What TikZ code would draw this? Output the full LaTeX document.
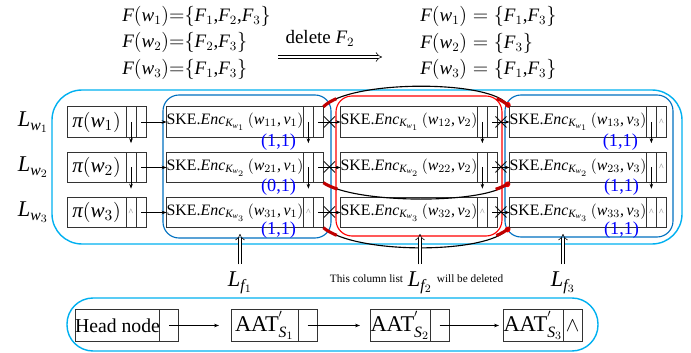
\documentclass[tikz,border=0pt]{standalone}
\usepackage{fontspec}
\setmainfont{Liberation Serif}
% math letters in the text italic
\DeclareSymbolFont{letters}{TU}{\rmdefault}{m}{it}
\DeclareMathSymbol{,}{\mathpunct}{operators}{`,}
\Umathchardef\pi="0 \symletters "03C0
\usepackage{tikz}
\usetikzlibrary{arrows.meta,positioning}

\definecolor{skyline}{RGB}{0,176,240}
\definecolor{colblue}{RGB}{0,112,192}
\definecolor{curvered}{RGB}{192,0,0}

\begin{document}
\begin{tikzpicture}[x=0.025cm,y=-0.025cm,>=Stealth,
  cell/.style={draw=black!80,line width=0.6pt,inner sep=0pt,outer sep=0pt,minimum width=3.35cm,minimum height=0.76cm,font=\fontsize{11.3}{13}\selectfont},
  picell/.style={cell,minimum width=1.475cm,font=\fontsize{15}{17}\selectfont},
  fld/.style={draw=black!80,line width=0.6pt,inner sep=0pt,outer sep=0pt,minimum width=0.25cm,minimum height=0.76cm},
  nul/.style={text=gray,font=\scriptsize,inner sep=0pt},
  ptr/.style={-{Stealth[length=3.5pt,width=2.5pt]},line width=0.5pt},
  cut/.style={font=\fontsize{17}{17}\selectfont,inner sep=0pt},
  tag/.style={blue,font=\fontsize{13}{13}\selectfont,inner sep=0pt},
  lab/.style={font=\fontsize{16}{18}\selectfont,inner sep=1pt},
  eqn/.style={font=\fontsize{13.5}{15}\selectfont,inner sep=0pt},
  hollow/.style={double,double distance=2pt,line width=0.4pt,-{Implies}},
  linkcurve/.style={line width=0.8pt,-{Circle[length=4pt,color=red]}},
  endred/.style={curvered,line width=2.2pt,dash pattern=on 11pt off 400pt},
  hbox/.style={cell,minimum height=0.78cm,font=\fontsize{14}{16}\selectfont},
  hfld/.style={fld,minimum width=0.475cm,minimum height=0.78cm}]
\useasboundingbox (0,0) rectangle (691,353);

% sets before and after
\node[eqn,anchor=west] (fl1) at (122,16) {$F(w_1){=}\{F_1,\!F_2,\!F_3\}$};
\node[eqn,anchor=west] (fl2) at (122,42) {$F(w_2){=}\{F_2,\!F_3\}$};
\node[eqn,anchor=west] (fl3) at (122,69) {$F(w_3){=}\{F_1,\!F_3\}$};
\node[eqn,anchor=west] (fr1) at (420,16) {$F(w_1) = \{F_1,\!F_3\}$};
\node[eqn,anchor=west] (fr2) at (420,43) {$F(w_2) = \{F_3\}$};
\node[eqn,anchor=west] (fr3) at (420,69) {$F(w_3) = \{F_1,\!F_3\}$};
\node[eqn] (del) at (320,38) {delete $F_2$};
\coordinate (delL) at (278,57);
\coordinate (delR) at (382,57);
\draw[hollow] (delL)--(delR);

% frames
\draw[skyline,line width=1pt,rounded corners=0.75cm] (52,90) rectangle (682,244);
\draw[colblue,line width=0.8pt,rounded corners=0.4cm] (163,95) rectangle (331,238);
\draw[red,line width=0.8pt,rounded corners=0.4cm] (336,96) rectangle (502,236);
\draw[colblue,line width=0.8pt,rounded corners=0.4cm] (505,95) rectangle (673,237);

% index rows
\foreach \r/\y in {1/122,2/167.5,3/212.5}{
  \node[lab] (L\r) at (33,\y) {$L_{w_\r}$};
  \node[picell] (p\r) at (96.5,\y) {$\pi(w_\r)$};
  \node[fld,right=0pt of p\r] (p\r-a) {};
  \node[fld,right=0pt of p\r-a] (p\r-b) {};
  \foreach \c/\x in {1/235,2/409,3/578}{
    \node[cell] (c\r\c) at (\x,\y) {SKE.$\mathit{Enc}_{K_{w_\r}}\,(w_{\r\c},v_\c)$};
    \node[fld,right=0pt of c\r\c] (c\r\c-a) {};
    \node[fld,right=0pt of c\r\c-a] (c\r\c-b) {};
  }
}

% pointers
\foreach \r in {1,2}{
  \draw[ptr] (p\r-a.center)--([yshift=-0.15cm]p\r-a.south);
  \foreach \c in {1,2,3}
    \draw[ptr] (c\r\c-a.center)--([yshift=-0.15cm]c\r\c-a.south);
}
\foreach \r in {1,2,3}{
  \draw[ptr] (p\r-b.center)--(c\r1.west);
  \draw[ptr] (c\r1-b.center)--(c\r2.west) node[cut,midway] (x\r1) {$\times$};
  \draw[ptr] (c\r2-b.center)--(c\r3.west) node[cut,midway] (x\r2) {$\times$};
  \node[nul] (n\r) at (c\r3-b) {\textasciicircum};
}
\node[nul] (np3) at (p3-a) {\textasciicircum};
\node[nul] (n31) at (c31-a) {\textasciicircum};
\node[nul] (n32) at (c32-a) {\textasciicircum};
\node[nul] (n33) at (c33-a) {\textasciicircum};

% bit tags
\node[tag] (t11) at ([xshift=-0.62cm,yshift=-0.13cm]c11.south east) {(1,1)};
\node[tag] (t21) at ([xshift=-0.62cm,yshift=-0.1cm]c21.south east) {(0,1)};
\node[tag] (t31) at ([xshift=-0.62cm,yshift=-0.07cm]c31.south east) {(1,1)};
\node[tag] (t13) at ([xshift=-0.65cm,yshift=-0.13cm]c13.south east) {(1,1)};
\node[tag] (t23) at ([xshift=-0.62cm,yshift=-0.1cm]c23.south east) {(1,1)};
\node[tag] (t33) at ([xshift=-0.62cm,yshift=-0.05cm]c33.south east) {(1,1)};

% new links past the deleted column
\draw[linkcurve] (c11-b.north east) .. controls (350,80) and (485,80) .. (c13.north west);
\draw[linkcurve] (c21-b.south east) .. controls (355,204) and (480,204) .. (c23.south west);
\draw[linkcurve] (c31-b.south east) .. controls (355,254) and (480,254) .. (c33.south west);
\draw[endred] (c11-b.north east) .. controls (350,80) and (485,80) .. (c13.north west);
\draw[endred] (c13.north west) .. controls (485,80) and (350,80) .. (c11-b.north east);
\draw[endred] (c21-b.south east) .. controls (355,204) and (480,204) .. (c23.south west);
\draw[endred] (c23.south west) .. controls (480,204) and (355,204) .. (c21-b.south east);
\draw[endred] (c31-b.south east) .. controls (355,254) and (480,254) .. (c33.south west);
\draw[endred] (c33.south west) .. controls (480,254) and (355,254) .. (c31-b.south east);

% column lists
\node[lab] (Lf1) at (240,283) {$L_{f_1}$};
\node[lab] (Lf2) at (420,283) {$L_{f_2}$};
\node[lab] (Lf3) at (563,283) {$L_{f_3}$};
\node[font=\fontsize{8}{9}\selectfont,inner sep=1pt,left=1pt of Lf2,yshift=3pt] (ttl) {This column list};
\node[font=\fontsize{8}{9}\selectfont,inner sep=1pt,right=1pt of Lf2,yshift=3pt] (ttr) {will be deleted};
\coordinate (u1) at (240,234);
\coordinate (u2) at (420,234);
\coordinate (u3) at (563,234);
\draw[hollow,shorten <=0.15cm] (Lf1.north)--(u1);
\draw[hollow,shorten <=0.15cm] (Lf2.north)--(u2);
\draw[hollow,shorten <=0.15cm] (Lf3.north)--(u3);

% AAT list
\draw[skyline,line width=1pt,rounded corners=0.65cm] (67,298) rectangle (598,351);
\node[hbox,minimum width=1.975cm] (head) at (117.5,325.5) {Head node};
\node[hfld,right=0pt of head] (head-b) {};
\node[hbox,minimum width=1.675cm,font=\fontsize{16}{18}\selectfont] (a1) at (264.5,325.5) {AAT$^{'}_{S_1}$};
\node[hfld,right=0pt of a1] (a1-b) {};
\node[hbox,minimum width=1.5cm,font=\fontsize{16}{18}\selectfont] (a2) at (400,325.5) {AAT$^{'}_{S_2}$};
\node[hfld,right=0pt of a2] (a2-b) {};
\node[hbox,minimum width=1.5cm,font=\fontsize{16}{18}\selectfont] (a3) at (533,325.5) {AAT$^{'}_{S_3}$};
\node[hfld,right=0pt of a3,font=\fontsize{14}{14}\selectfont] (a3-b) {$\wedge$};
\draw[ptr,shorten >=0.3cm] (head-b.center)--(a1.west);
\draw[ptr,shorten >=0.25cm] (a1-b.center)--(a2.west);
\draw[ptr,shorten >=0.1cm] (a2-b.center)--(a3.west);
\end{tikzpicture}
\end{document}
